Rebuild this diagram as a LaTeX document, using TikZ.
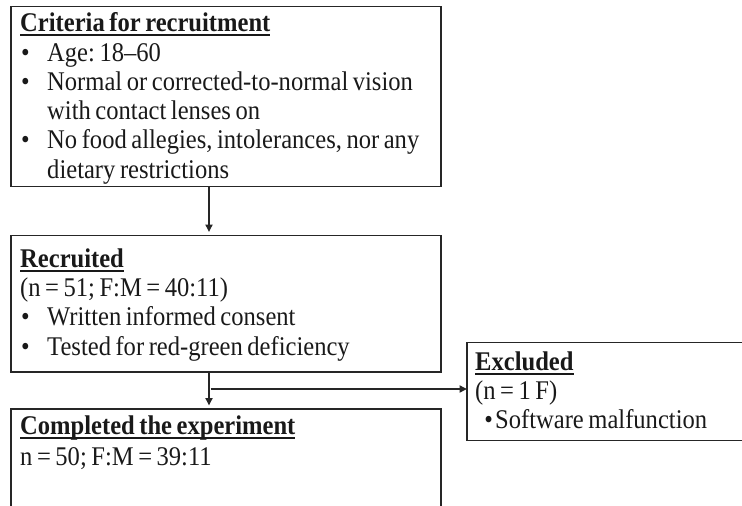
\documentclass[tikz,border=0pt]{standalone}
\usepackage{graphicx}
\usepackage{fontspec}
\setmainfont{Liberation Serif}
\usetikzlibrary{arrows.meta}

% bold heading with a rule at a fixed depth below the baseline
\newlength\ulwidth
\newcommand\heading[1]{\textbf{\settowidth\ulwidth{#1}\rlap{\rule[-4.5pt]{\ulwidth}{1.9pt}}#1}}
% bullet item and continuation indent
\newcommand\bul{\makebox[29.7pt][l]{\hspace{1pt}\textbullet}}
\newcommand\cont{\hspace*{29.7pt}}
% condensed text block, first baseline at the node's base
\newcommand\boxtext[1]{\scalebox{0.91}[1]{\parbox[t]{500pt}{\raggedright
  \frenchspacing\fontsize{27}{29.3}\selectfont\spaceskip=5pt\relax #1}}}

\begin{document}
\begin{tikzpicture}[x=1pt,y=-1pt,
  stage/.style={draw=black!85, line width=1.6pt, inner sep=0pt, outer sep=0pt},
  txt/.style={anchor=base west, inner sep=0pt, text=black!90},
  flow/.style={draw=black!85, line width=1.8pt, -{Triangle[length=7.5pt,width=7pt]}}]
\useasboundingbox (0,0) rectangle (742,506);
\clip (0,0) rectangle (742,506);

% stage boxes
\node[stage, minimum width=430pt, minimum height=180pt] (criteria) at (226,96.5) {};
\node[stage, minimum width=430pt, minimum height=136.5pt] (recruited) at (226,303.75) {};
\node[stage, minimum width=430pt, minimum height=151pt] (completed) at (226,484.5) {};
\node[stage, minimum width=333pt, minimum height=98pt] (excluded) at (633.5,391.5) {};

% box texts
\node[txt] (criteriatext) at (20,31.7) {\boxtext{%
\heading{Criteria for recruitment}\\
\bul Age: 18–60\\
\bul Normal or corrected-to-normal vision\\
\cont with contact lenses on\\
\bul No food allegies, intolerances, nor any\\
\cont dietary restrictions}};

\node[txt] (recruitedtext) at (20,267.3) {\boxtext{%
\heading{Recruited}\\
(n = 51; F:M = 40:11)\\
\bul Written informed consent\\
\bul Tested for red-green deficiency}};

\node[txt] (completedtext) at (20,434.3) {\boxtext{%
\heading{Completed the experiment}\\[1.5pt]
n = 50; F:M = 39:11}};

\node[txt] (excludedtext) at (475,370) {\boxtext{%
\heading{Excluded}\\
(n = 1 F)\\
\hspace*{10pt}\textbullet\hspace{2.5pt}Software malfunction}};

% connectors
\coordinate (split) at (209,389);
\draw[flow, shorten >=3.5pt] (criteria.south -| split) -- (recruited.north -| split);
\draw[flow, shorten >=3.5pt] (recruited.south -| split) -- (completed.north -| split);
\draw[flow] ([xshift=1.5pt]split) -- (split -| excluded.west);
\end{tikzpicture}
\end{document}
